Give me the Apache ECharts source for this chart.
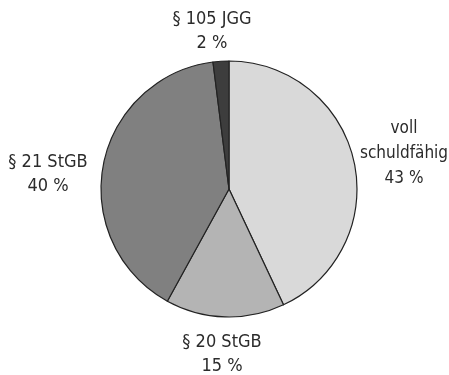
<!DOCTYPE html>
<html>
<head>
<meta charset="utf-8">
<script src="https://cdn.jsdelivr.net/npm/echarts@6/dist/echarts.min.js"></script>
<style>
  html, body { margin: 0; padding: 0; background: #fff; }
  #chart { width: 449px; height: 375px; }
</style>
</head>
<body>
<div id="chart"></div>
<script>
// Anteil der Schuldfähigkeitsbewertungen (Prozent)
const categories = ['voll\nschuldfähig', '§ 20 StGB', '§ 21 StGB', '§ 105 JGG'];
const percentages = [43, 15, 40, 2];
const sliceColors = ['#d9d9d9', '#b4b4b4', '#808080', '#3d3d3d'];

// Label anchor points (pixel positions in the canvas)
const labelAnchors = [
  { x: 404, y: 154 },
  { x: 222, y: 354 },
  { x: 48, y: 174 },
  { x: 212, y: 31 }
];
// The three-line label is set a touch smaller so it fits the right edge
const labelSizes = [17, 18, 18, 18];

const chart = echarts.init(document.getElementById('chart'), null, { renderer: 'canvas' });

chart.setOption({
  animation: false,
  backgroundColor: '#ffffff',
  series: [{
    type: 'pie',
    center: [229, 189],
    radius: [0, 128],
    startAngle: 90,
    clockwise: true,
    avoidLabelOverlap: false,
    itemStyle: { borderColor: '#222', borderWidth: 1.2 },
    label: {
      show: true,
      position: 'outside',
      formatter: p => p.name + '\n' + p.value + ' %',
      fontFamily: '"DejaVu Sans Condensed", sans-serif',
      fontSize: 18,
      lineHeight: 24,
      color: '#2b2b2b',
      align: 'center',
      overflow: 'none'
    },
    labelLine: { show: false },
    labelLayout: params => ({
      x: labelAnchors[params.dataIndex].x,
      y: labelAnchors[params.dataIndex].y,
      align: 'center',
      verticalAlign: 'middle'
    }),
    data: categories.map((name, i) => ({
      name: name,
      value: percentages[i],
      itemStyle: { color: sliceColors[i] },
      label: { fontSize: labelSizes[i], lineHeight: labelSizes[i] === 17 ? 25 : 24 }
    }))
  }]
});
</script>
</body>
</html>
